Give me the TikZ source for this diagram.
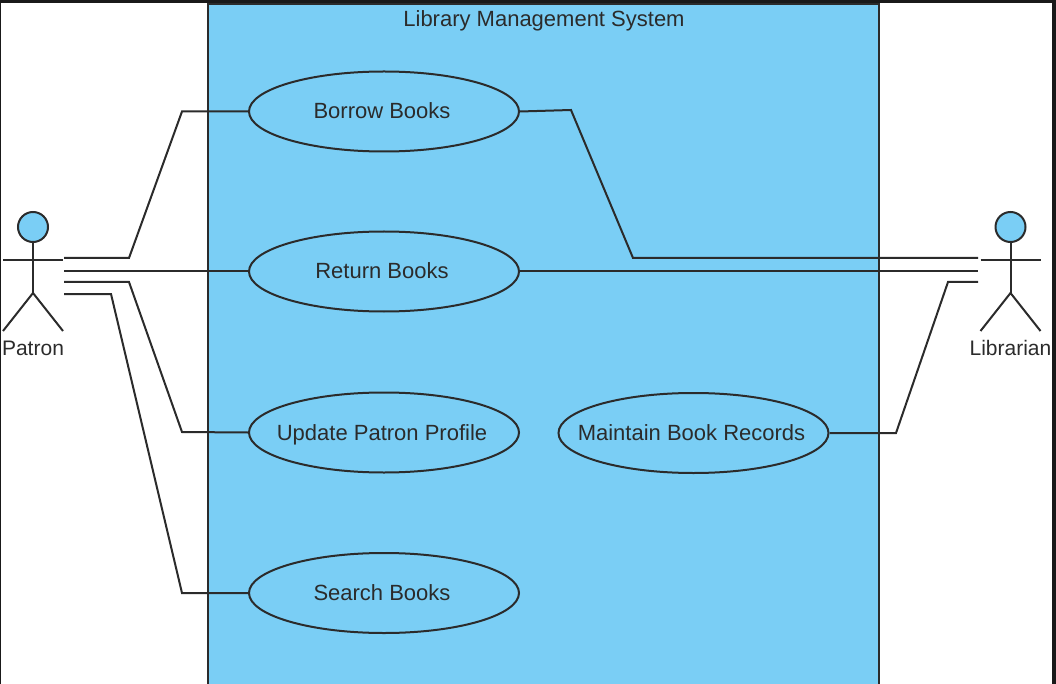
\documentclass[tikz,border=0pt]{standalone}
\usepackage{fontspec}
\setmainfont{Liberation Sans}
\usepackage{xcolor}
\usetikzlibrary{shapes.geometric}
\definecolor{sysblue}{HTML}{7ACEF5}
\definecolor{linegray}{HTML}{2B2B2B}
\tikzset{
  usecase/.style={ellipse, draw=linegray, line width=2pt, minimum width=270pt, minimum height=80pt, inner xsep=-40pt, inner ysep=0pt, text=linegray, text height=19pt, text depth=4pt, font=\fontsize{22}{24}\selectfont, execute at begin node={\hspace*{-4pt}}},
  head/.style={circle, draw=linegray, line width=2pt, fill=sysblue, minimum size=30pt, inner sep=0pt},
  lab/.style={text=linegray, inner sep=0pt, font=\fontsize{21}{24}\selectfont},
  link/.style={draw=linegray, line width=2pt},
}
\begin{document}
\begin{tikzpicture}[x=1pt, y=-1pt]
  \useasboundingbox (0,0) rectangle (1056,684);
  % system box
  \node[draw=linegray, line width=2pt, fill=sysblue, minimum width=671pt, minimum height=690pt, inner sep=0pt, anchor=north west] (system) at (206.5,3) {};
  \node[lab, font=\fontsize{22}{24}\selectfont] (title) at (544,21) {Library Management System};
  % screenshot edge
  \fill[black!90] (0,0) rectangle (1056,3);
  \fill[black!90] (0,0) rectangle (1,684);
  \fill[black!90] (1052,0) rectangle (1056,684);
  % use cases
  \node[usecase] (borrow) at (384,111.5) {Borrow Books};
  \node[usecase] (return) at (384,271.5) {Return Books};
  \node[usecase] (update) at (384,432.5) {Update Patron Profile};
  \node[usecase] (search) at (384,593) {Search Books};
  \node[usecase] (maintain) at (693.5,433) {Maintain Book Records};
  % actors
  \foreach \x/\name/\lab in {33/patron/Patron,1010.5/librarian/Librarian}{
    \node[head] (\name) at (\x,227) {};
    \coordinate (\name hip) at (\x,293);
    \draw[link] (\name.south) -- (\name hip);
    \draw[link] (\x-30,260) -- (\x+30,260);
    \draw[link] (\x-30,331) -- (\name hip) -- (\x+30,331);
    \node[lab] (\name lab) at (\x,348) {\lab};
  }
  % free ends
  \foreach \i/\y in {1/258,2/271.5,3/282,4/294}{
    \coordinate (p\i) at (64,\y);
  }
  \foreach \i/\y in {1/258,2/271.5,3/282}{
    \coordinate (l\i) at (978,\y);
  }
  % patron links
  \draw[link] (p1) -- (129,258) -- (182,111.5) -- (borrow.west);
  \draw[link] (p2) -- (return.west);
  \draw[link] (p3) -- (129,282) -- (182,432) -- (update.west);
  \draw[link] (p4) -- (111,294) -- (182,593) -- (search.west);
  % librarian links
  \draw[link] (borrow.east) -- (571,110) -- (633,258) -- (l1);
  \draw[link] (return.east) -- (l2);
  \draw[link] (maintain.east) -- (896,433) -- (948,282) -- (l3);
\end{tikzpicture}
\end{document}
